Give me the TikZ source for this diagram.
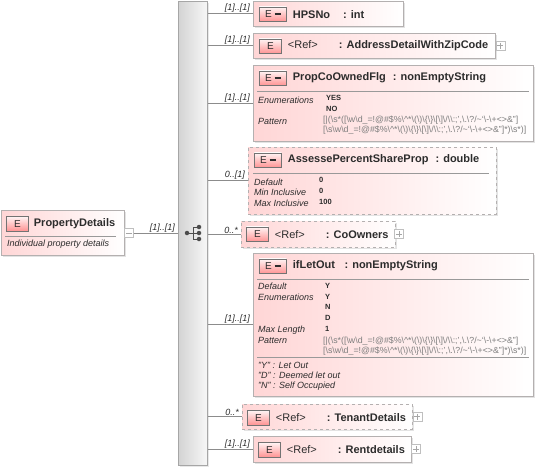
\documentclass[tikz,border=0pt]{standalone}
\usepackage{fontspec}
\setmainfont{Liberation Sans}
\usepackage{xcolor}
\usepackage{tikz}
\usetikzlibrary{positioning, shadows}

\definecolor{boxline}{HTML}{B4B0B0}
\definecolor{boxpink}{HTML}{FFD6D6}
\definecolor{inkdark}{HTML}{2C2C2C}
\definecolor{patgrey}{HTML}{7E7E7E}

\newcommand{\bs}{\textbackslash}
\newcommand{\patbody}{\_=!@\#\$\%\bs\^{}*\bs(\bs)\bs\{\bs\}\bs[\bs]\bs/\bs\bs:;',\bs.\bs?/\textasciitilde`\bs-\bs+<>\&"]}
\newcommand{\refword}{{\mdseries <Ref>}}

\begin{document}
\begin{tikzpicture}[
    x=1pt, y=-1pt,
    elem/.style={rectangle, draw=boxline, line width=0.9pt, left color=boxpink, right color=white, anchor=north west, inner sep=0pt, outer sep=0pt, drop shadow={shadow xshift=1.5pt, shadow yshift=-1.5pt, fill=black!22}},
    optelem/.style={elem, dashed},
    eicon/.style={rectangle, draw=black!55, line width=0.7pt, top color=red!4, bottom color=red!42, anchor=north west, inner sep=0pt, minimum width=22pt, minimum height=14.5pt, text=inkdark, font=\fontsize{10}{11}\selectfont},
    eiconlong/.style={eicon, minimum width=27pt},
    title/.style={right=6pt of #1, inner sep=0pt, text=inkdark, font=\fontsize{11}{13}\bfseries\selectfont},
    facetkey/.style={anchor=north west, inner sep=0pt, align=left, text=inkdark, font=\fontsize{9}{10.7}\itshape\selectfont},
    facetval/.style={anchor=north west, inner sep=0pt, align=left, text=inkdark, font=\fontsize{7.5}{10.7}\bfseries\selectfont},
    patterntxt/.style={anchor=north west, inner sep=0pt, align=left, text=patgrey, font=\fontsize{8.8}{10}\selectfont},
    mult/.style={inner sep=0pt, text=inkdark, font=\fontsize{9}{10}\itshape\selectfont},
    conn/.style={draw=black!45, line width=0.7pt},
    sep/.style={draw=black!40, line width=0.7pt},
    expander/.style={rectangle, draw=black!25, fill=white, line width=0.6pt, minimum size=9pt, inner sep=0pt, path picture={\draw[black!35, shorten >=1.5pt, shorten <=1.5pt] (path picture bounding box.west) -- (path picture bounding box.east); \draw[black!35, shorten >=1.5pt, shorten <=1.5pt] (path picture bounding box.north) -- (path picture bounding box.south);}},
    collapser/.style={rectangle, draw=black!25, fill=white, line width=0.6pt, minimum size=9pt, inner sep=0pt, path picture={\draw[black!35, shorten >=1.5pt, shorten <=1.5pt] (path picture bounding box.west) -- (path picture bounding box.east);}},
    dotnode/.style={circle, fill=black!70, inner sep=0pt, minimum size=4.5pt}
]
\useasboundingbox (0,0) rectangle (538,469);

% sequence bar
\node[rectangle, draw=black!35, line width=1pt, left color=black!17, right color=black!3, anchor=north west, minimum width=29pt, minimum height=464pt, drop shadow={shadow xshift=1.5pt, shadow yshift=-1.5pt, fill=black!18}] (bar) at (178,1) {};
\node[dotnode] (seq_root) at (187,233) {};
\node[dotnode] (seq_a) at (199,227) {};
\node[dotnode] (seq_b) at (199,233) {};
\node[dotnode] (seq_c) at (199,239) {};
\coordinate (seq_fork) at (193,233);
\draw[black!70, line width=0.8pt] (seq_root) -- (seq_b);
\draw[black!70, line width=0.8pt] (seq_fork) |- (seq_a);
\draw[black!70, line width=0.8pt] (seq_fork) |- (seq_c);

% PropertyDetails
\node[elem, minimum width=123pt, minimum height=45pt] (prop) at (1,210) {};
\node[eicon] (prop_icon) at (6,216) {E};
\node[title=prop_icon, xshift=-1pt] (prop_name) {PropertyDetails};
\draw[sep] (5,236) -- (116,236);
\node[facetkey] (prop_doc) at (7,240) {Individual property details};
\node[collapser, right=0pt of prop.east, yshift=-0.5pt] (prop_exp) {};
\coordinate (prop_out) at (bar.west |- prop_exp);
\draw[conn] (prop_exp) -- (prop_out);
\node[mult, above left=0.5pt and 3pt of prop_out] (prop_mult) {[1]..[1]};

% HPSNo
\node[elem, minimum width=150pt, minimum height=25pt] (hpsno) at (253,1) {};
\node[eiconlong] (hpsno_icon) at (259,6.5) {E\hspace{3pt}\rule[2.5pt]{6pt}{1.6pt}};
\node[title=hpsno_icon] (hpsno_name) {HPSNo\hspace{13pt}: int};
\draw[conn] (bar.east |- hpsno.west) -- (hpsno.west);
\node[mult, above left=0.5pt and 3pt of hpsno.west] (hpsno_mult) {[1]..[1]};

% AddressDetailWithZipCode
\node[elem, minimum width=242pt, minimum height=25pt] (addr) at (253,33) {};
\node[eicon] (addr_icon) at (259,38.5) {E};
\node[title=addr_icon] (addr_name) {\refword\hspace{21pt}: AddressDetailWithZipCode};
\node[expander, right=0.5pt of addr.east] (addr_exp) {};
\draw[conn] (bar.east |- addr.west) -- (addr.west);
\node[mult, above left=0.5pt and 3pt of addr.west] (addr_mult) {[1]..[1]};

% PropCoOwnedFlg
\node[elem, minimum width=280pt, minimum height=76pt] (flg) at (253,65) {};
\node[eiconlong] (flg_icon) at (259,70.5) {E\hspace{3pt}\rule[2.5pt]{6pt}{1.6pt}};
\node[title=flg_icon] (flg_name) {PropCoOwnedFlg\hspace{4pt} : nonEmptyString};
\draw[sep] (257,91) -- (529,91);
\node[facetkey] (flg_keys) at (258,96.5) {Enumerations\\[10.4pt]Pattern};
\node[facetval] (flg_vals) at (326,95) {YES\\NO};
\node[patterntxt] (flg_pat) at (323,115.5) {[|(\bs s*([\bs w\bs d\patbody\\{}[\bs s\bs w\bs d\patbody*)\bs s*)]};
\draw[conn] (bar.east |- flg.west) -- (flg.west);
\node[mult, above left=0.5pt and 3pt of flg.west] (flg_mult) {[1]..[1]};

% AssessePercentShareProp
\node[optelem, minimum width=248pt, minimum height=67pt] (share) at (248,147) {};
\node[eiconlong] (share_icon) at (254,152.5) {E\hspace{3pt}\rule[2.5pt]{6pt}{1.6pt}};
\node[title=share_icon] (share_name) {AssessePercentShareProp\hspace{4pt} : double};
\draw[sep] (253,173) -- (489,173);
\node[facetkey] (share_keys) at (254,178.5) {Default\\Min Inclusive\\Max Inclusive};
\node[facetval] (share_vals) at (319,177.5) {0\\0\\100};
\draw[conn] (bar.east |- share.west) -- (share.west);
\node[mult, above left=0.5pt and 3pt of share.west] (share_mult) {0..[1]};

% CoOwners
\node[optelem, minimum width=154pt, minimum height=26pt] (owners) at (241,221) {};
\node[eicon] (owners_icon) at (246,226.5) {E};
\node[title=owners_icon] (owners_name) {\refword\hspace{21pt}: CoOwners};
\node[expander, right=-1pt of owners.east] (owners_exp) {};
\draw[conn] (bar.east |- owners.west) -- (owners.west);
\node[mult, above left=0.5pt and 3pt of owners.west] (owners_mult) {0..*};

% ifLetOut
\node[elem, minimum width=280pt, minimum height=143pt] (letout) at (253,253) {};
\node[eiconlong] (letout_icon) at (259,258.5) {E\hspace{3pt}\rule[2.5pt]{6pt}{1.6pt}};
\node[title=letout_icon] (letout_name) {ifLetOut\hspace{9.5pt}: nonEmptyString};
\draw[sep] (257,279) -- (529,279);
\node[facetkey] (letout_keys) at (258,283) {Default\\Enumerations\\[21.6pt]Max Length\\Pattern};
\node[facetval] (letout_vals) at (325,283) {Y\\Y\\N\\D\\1};
\node[patterntxt] (letout_pat) at (323,336.5) {[|(\bs s*([\bs w\bs d\patbody\\{}[\bs s\bs w\bs d\patbody*)\bs s*)]};
\draw[sep] (257,357) -- (529,357);
\node[facetkey, font=\fontsize{9}{10.2}\itshape\selectfont] (letout_doc) at (258,362) {"Y" : Let Out\\"D" : Deemed let out\\"N" : Self Occupied};
\draw[conn] (bar.east |- letout.west) -- (letout.west);
\node[mult, above left=0.5pt and 3pt of letout.west] (letout_mult) {[1]..[1]};

% TenantDetails
\node[optelem, minimum width=170pt, minimum height=25pt] (tenant) at (242,404) {};
\node[eicon] (tenant_icon) at (247,410) {E};
\node[title=tenant_icon] (tenant_name) {\refword\hspace{21pt}: TenantDetails};
\node[expander, right=0.5pt of tenant.east] (tenant_exp) {};
\draw[conn] (bar.east |- tenant.west) -- (tenant.west);
\node[mult, above left=0.5pt and 3pt of tenant.west] (tenant_mult) {0..*};

% Rentdetails
\node[elem, minimum width=158pt, minimum height=26pt] (rent) at (253,436) {};
\node[eicon] (rent_icon) at (258,442) {E};
\node[title=rent_icon] (rent_name) {\refword\hspace{21pt}: Rentdetails};
\node[expander, right=0pt of rent.east] (rent_exp) {};
\draw[conn] (bar.east |- rent.west) -- (rent.west);
\node[mult, above left=0.5pt and 3pt of rent.west] (rent_mult) {[1]..[1]};

\end{tikzpicture}
\end{document}
